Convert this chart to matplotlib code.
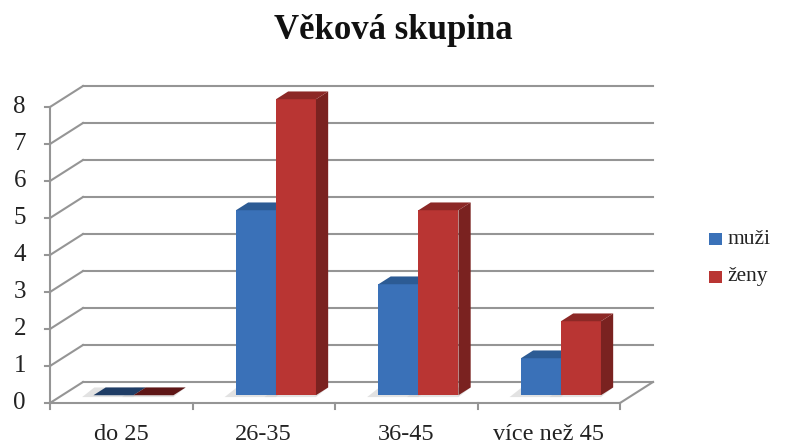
import matplotlib
matplotlib.use("Agg")
import matplotlib.pyplot as plt
from matplotlib.patches import Polygon, Rectangle

categories = ["do 25", "26-35", "36-45", "více než 45"]
series_names = ["muži", "ženy"]
muzi = [0, 5, 3, 1]
zeny = [0, 8, 5, 2]
y_ticks = list(range(0, 9))
title = "Věková skupina"

# colours: front, side, top
colors = {
    "muži": ("#3a71b8", "#274f82", "#2c5b94"),
    "ženy": ("#b93533", "#7a2220", "#8c2826"),
}
flat_colors = {"muži": "#1f3d66", "ženy": "#5e1616"}

W, H = 785, 446
fig = plt.figure(figsize=(W / 100, H / 100), dpi=100)
fig.patch.set_facecolor("white")

# front plane: x in [-0.5, 3.5] -> px 50..620, y in [0, 8] -> px 403..107
x0px, x1px, y0px, y1px = 50, 620, 403, 107
ax = fig.add_axes([x0px / W, (H - y0px) / H, (x1px - x0px) / W, (y0px - y1px) / H])
ax.set_xlim(-0.5, 3.5)
ax.set_ylim(0, 8)
ax.axis("off")

# depth vector in data units
DX = 33 / 142.5
DY = 21 / 37
grid_c = "#959595"
lw = 1.5
xl, xr = -0.5, len(categories) - 0.5

# back-wall gridlines and left-wall diagonals
for v in y_ticks:
    ax.plot([xl + DX, xr + DX], [v + DY, v + DY], color=grid_c, lw=lw, clip_on=False, zorder=1)
    ax.plot([xl, xl + DX], [v, v + DY], color=grid_c, lw=lw, clip_on=False, zorder=1)

# floor edges and axes
ax.plot([xl, xr], [0, 0], color=grid_c, lw=lw, clip_on=False, zorder=5)
ax.plot([xr, xr + DX], [0, DY], color=grid_c, lw=lw, clip_on=False, zorder=5)
ax.plot([xl, xl], [0, y_ticks[-1]], color=grid_c, lw=lw, clip_on=False, zorder=5)

serif = "Liberation Serif"
# ticks
tick_dx = 5 / 142.5
tick_dy = 6 / 37
for v in y_ticks:
    ax.plot([xl - tick_dx, xl], [v, v], color=grid_c, lw=lw, clip_on=False, zorder=5)
    ax.text(xl - 24 / 142.5, v, str(v), ha="right", va="center",
            fontsize=18, family=serif, color="#222222")
for i in range(len(categories) + 1):
    xb = xl + i
    ax.plot([xb, xb], [0, -tick_dy], color=grid_c, lw=lw, clip_on=False, zorder=5)
for i, c in enumerate(categories):
    ax.text(i, -37 / 37, c, ha="center", va="baseline",
            fontsize=17.5, family=serif, color="#222222")

# 3D bars
bw = 40 / 142.5
f0, f1 = 0.37, 0.74
for s_idx, (name, vals) in enumerate([("muži", muzi), ("ženy", zeny)]):
    front, side, top = colors[name]
    for i, v in enumerate(vals):
        left = i - bw + s_idx * bw + f0 * DX
        bottom = f0 * DY
        ddx = (f1 - f0) * DX
        ddy = (f1 - f0) * DY
        z = 10 + s_idx
        # soft floor shadow
        ax.add_patch(Polygon([(left - 0.08, bottom - 0.05), (left + bw, bottom - 0.05),
                              (left + bw + ddx, bottom + ddy), (left + ddx - 0.08, bottom + ddy)],
                             closed=True, facecolor="#d0d0d0", edgecolor="none",
                             alpha=0.6, zorder=3, clip_on=False))
        if v == 0:
            ax.add_patch(Polygon([(left, bottom), (left + bw, bottom),
                                  (left + bw + ddx, bottom + ddy), (left + ddx, bottom + ddy)],
                                 closed=True, facecolor=flat_colors[name], edgecolor="none",
                                 zorder=z, clip_on=False))
            continue
        ax.bar(left, v, width=bw, bottom=bottom, align="edge", color=front,
               edgecolor="none", zorder=z, clip_on=False)
        ax.add_patch(Polygon([(left + bw, bottom), (left + bw + ddx, bottom + ddy),
                              (left + bw + ddx, bottom + v + ddy), (left + bw, bottom + v)],
                             closed=True, facecolor=side, edgecolor="none", zorder=z, clip_on=False))
        ax.add_patch(Polygon([(left, bottom + v), (left + bw, bottom + v),
                              (left + bw + ddx, bottom + v + ddy), (left + ddx, bottom + v + ddy)],
                             closed=True, facecolor=top, edgecolor="none", zorder=z, clip_on=False))

# title
fig.text(393 / W, 1 - 39 / H, title, ha="center", va="baseline", fontsize=25,
         fontweight="bold", family=serif, color="#111111")

# legend
for k, (name, yc) in enumerate([("muži", 239), ("ženy", 277)]):
    fig.patches.append(Rectangle((709 / W, 1 - (yc + 6) / H), 13 / W, 12 / H,
                                 transform=fig.transFigure, facecolor=colors[name][0],
                                 edgecolor="none"))
    fig.text(727 / W, 1 - yc / H, name, ha="left", va="center", fontsize=15.5,
             family=serif, color="#222222")

fig.savefig("out.png", dpi=100)
